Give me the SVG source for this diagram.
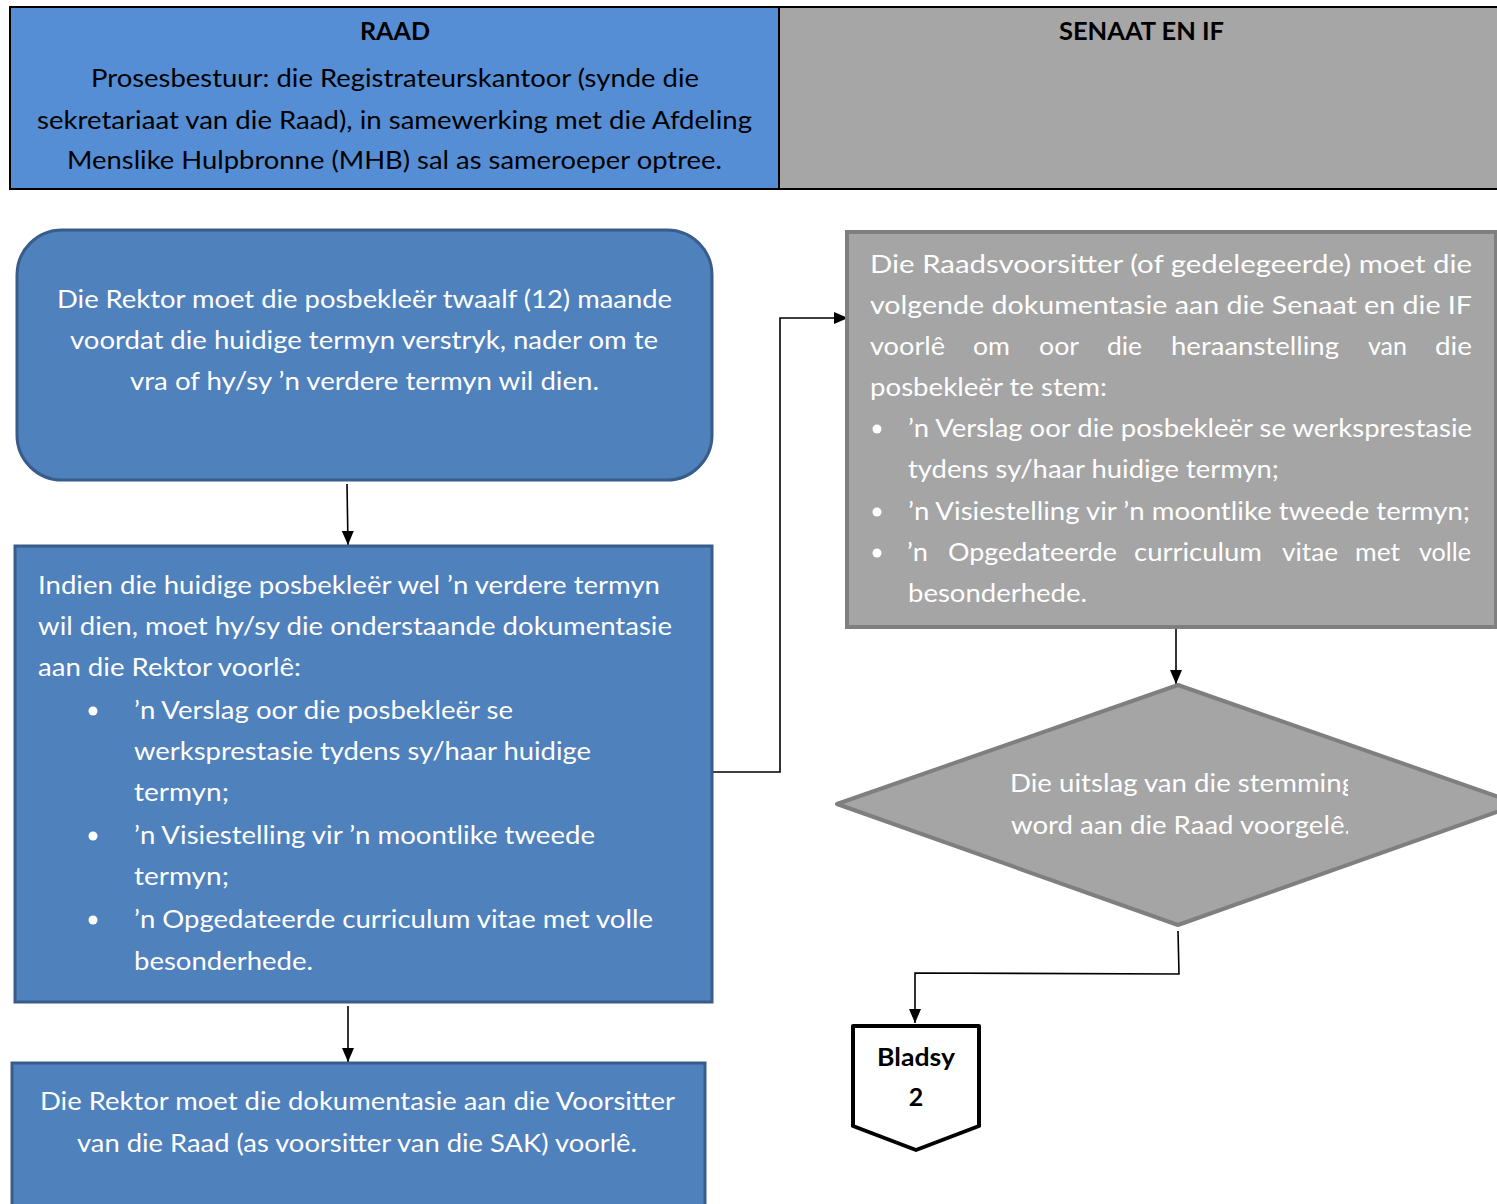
<svg xmlns="http://www.w3.org/2000/svg" width="1497" height="1204" viewBox="0 0 1497 1204">
<style>
text{font-family:Lato,"Open Sans","Liberation Sans",sans-serif;font-size:25px}
.w{fill:#ffffff}
.k{fill:#000000}
.b{font-weight:bold}
.blue{fill:#4F81BD;stroke:#385D8A;stroke-width:3}
.grey{fill:#A5A5A5;stroke:#7F7F7F;stroke-width:4}
.conn{fill:none;stroke:#000;stroke-width:1.6}
</style>
<defs>
<marker id="ah" markerUnits="userSpaceOnUse" markerWidth="14" markerHeight="14" viewBox="0 0 14 14" refX="14" refY="7" orient="auto">
<path d="M0,1 L14,7 L0,13 z" fill="#000"/>
</marker>
<clipPath id="dclip"><rect x="837" y="685" width="511" height="240"/></clipPath>
</defs>

<g id="header">
<rect x="10" y="7" width="769" height="182" fill="#558ED5" stroke="#000" stroke-width="2"/>
<rect x="779" y="7" width="720" height="182" fill="#A6A6A6" stroke="#000" stroke-width="2"/>
<text class="k b" x="395" y="40" text-anchor="middle" textLength="70" lengthAdjust="spacingAndGlyphs">RAAD</text>
<text class="k" x="395" y="87" text-anchor="middle" textLength="608" lengthAdjust="spacingAndGlyphs">Prosesbestuur: die Registrateurskantoor (synde die</text>
<text class="k" x="394.5" y="129" text-anchor="middle" textLength="715" lengthAdjust="spacingAndGlyphs">sekretariaat van die Raad), in samewerking met die Afdeling</text>
<text class="k" x="394.5" y="169" text-anchor="middle" textLength="655" lengthAdjust="spacingAndGlyphs">Menslike Hulpbronne (MHB) sal as sameroeper optree.</text>
<text class="k b" x="1141.5" y="40" text-anchor="middle" textLength="165" lengthAdjust="spacingAndGlyphs">SENAAT EN IF</text>
</g>

<g id="connectors">
<path class="conn" d="M347,484 L348,545" marker-end="url(#ah)"/>
<path class="conn" d="M348,1006 L348,1062" marker-end="url(#ah)"/>
<path class="conn" d="M713,772 H780 V318 H848" marker-end="url(#ah)"/>
<path class="conn" d="M1176,627 V684" marker-end="url(#ah)"/>
<path class="conn" d="M1178,931 L1179,974 L915,973 L915,1023" marker-end="url(#ah)"/>
</g>

<g id="node1">
<rect class="blue" x="17" y="230" width="695" height="250" rx="45" ry="45"/>
<text class="w" x="364.5" y="308" text-anchor="middle" textLength="615" lengthAdjust="spacingAndGlyphs">Die Rektor moet die posbekleër twaalf (12) maande</text>
<text class="w" x="364" y="349" text-anchor="middle" textLength="588" lengthAdjust="spacingAndGlyphs">voordat die huidige termyn verstryk, nader om te</text>
<text class="w" x="364.5" y="390" text-anchor="middle" textLength="469" lengthAdjust="spacingAndGlyphs">vra of hy/sy ’n verdere termyn wil dien.</text>
</g>

<g id="node2">
<rect class="blue" x="15" y="546" width="697" height="456"/>
<text class="w" x="38" y="594" textLength="622" lengthAdjust="spacingAndGlyphs">Indien die huidige posbekleër wel ’n verdere termyn</text>
<text class="w" x="38" y="635" textLength="634" lengthAdjust="spacingAndGlyphs">wil dien, moet hy/sy die onderstaande dokumentasie</text>
<text class="w" x="38" y="676" textLength="263" lengthAdjust="spacingAndGlyphs">aan die Rektor voorlê:</text>
<circle class="w" cx="93" cy="711" r="4.5"/>
<circle class="w" cx="93" cy="836" r="4.5"/>
<circle class="w" cx="93" cy="920" r="4.5"/>
<text class="w" x="134" y="719" textLength="379" lengthAdjust="spacingAndGlyphs">’n Verslag oor die posbekleër se</text>
<text class="w" x="134" y="760" textLength="457" lengthAdjust="spacingAndGlyphs">werksprestasie tydens sy/haar huidige</text>
<text class="w" x="134" y="801" textLength="95" lengthAdjust="spacingAndGlyphs">termyn;</text>
<text class="w" x="134" y="844" textLength="461" lengthAdjust="spacingAndGlyphs">’n Visiestelling vir ’n moontlike tweede</text>
<text class="w" x="134" y="885" textLength="95" lengthAdjust="spacingAndGlyphs">termyn;</text>
<text class="w" x="134" y="928" textLength="519" lengthAdjust="spacingAndGlyphs">’n Opgedateerde curriculum vitae met volle</text>
<text class="w" x="134" y="970" textLength="179" lengthAdjust="spacingAndGlyphs">besonderhede.</text>
</g>

<g id="node3">
<rect class="blue" x="12" y="1063" width="693" height="160"/>
<text class="w" x="357.5" y="1110" text-anchor="middle" textLength="635" lengthAdjust="spacingAndGlyphs">Die Rektor moet die dokumentasie aan die Voorsitter</text>
<text class="w" x="357" y="1152" text-anchor="middle" textLength="560" lengthAdjust="spacingAndGlyphs">van die Raad (as voorsitter van die SAK) voorlê.</text>
</g>

<g id="node4">
<rect class="grey" x="847" y="232" width="649" height="395"/>
<text class="w" x="870" y="273" textLength="602" lengthAdjust="spacingAndGlyphs">Die Raadsvoorsitter (of gedelegeerde) moet die</text>
<text class="w" x="870" y="314" textLength="602" lengthAdjust="spacingAndGlyphs">volgende dokumentasie aan die Senaat en die IF</text>
<text class="w" y="355"><tspan x="870" textLength="75" lengthAdjust="spacingAndGlyphs">voorlê</tspan><tspan x="973" textLength="37" lengthAdjust="spacingAndGlyphs">om</tspan><tspan x="1039" textLength="40" lengthAdjust="spacingAndGlyphs">oor</tspan><tspan x="1107" textLength="35" lengthAdjust="spacingAndGlyphs">die</tspan><tspan x="1171" textLength="168" lengthAdjust="spacingAndGlyphs">heraanstelling</tspan><tspan x="1368" textLength="39" lengthAdjust="spacingAndGlyphs">van</tspan><tspan x="1435" textLength="37" lengthAdjust="spacingAndGlyphs">die</tspan></text>
<text class="w" x="870" y="396" textLength="237" lengthAdjust="spacingAndGlyphs">posbekleër te stem:</text>
<circle class="w" cx="877" cy="429" r="4.5"/>
<circle class="w" cx="877" cy="512" r="4.5"/>
<circle class="w" cx="877" cy="553" r="4.5"/>
<text class="w" x="908" y="437" textLength="564" lengthAdjust="spacingAndGlyphs">’n Verslag oor die posbekleër se werksprestasie</text>
<text class="w" x="908" y="478" textLength="371" lengthAdjust="spacingAndGlyphs">tydens sy/haar huidige termyn;</text>
<text class="w" x="908" y="520" textLength="562" lengthAdjust="spacingAndGlyphs">’n Visiestelling vir ’n moontlike tweede termyn;</text>
<text class="w" y="561"><tspan x="907" textLength="21" lengthAdjust="spacingAndGlyphs">’n</tspan><tspan x="948" textLength="169" lengthAdjust="spacingAndGlyphs">Opgedateerde</tspan><tspan x="1134" textLength="128" lengthAdjust="spacingAndGlyphs">curriculum</tspan><tspan x="1282" textLength="56" lengthAdjust="spacingAndGlyphs">vitae</tspan><tspan x="1355" textLength="45" lengthAdjust="spacingAndGlyphs">met</tspan><tspan x="1419" textLength="52" lengthAdjust="spacingAndGlyphs">volle</tspan></text>
<text class="w" x="908" y="602" textLength="179" lengthAdjust="spacingAndGlyphs">besonderhede.</text>
</g>

<g id="node5">
<polygon class="grey" points="1178,685 1519,804 1178,925 837,804" stroke-linejoin="round"/>
<g clip-path="url(#dclip)">
<text class="w" x="1010" y="792" textLength="346" lengthAdjust="spacingAndGlyphs">Die uitslag van die stemming</text>
<text class="w" x="1011" y="834" textLength="340" lengthAdjust="spacingAndGlyphs">word aan die Raad voorgelê.</text>
</g>
</g>

<g id="node6">
<polygon points="853,1026 979,1026 979,1126 916,1150 853,1126" fill="#fff" stroke="#000" stroke-width="4" stroke-linejoin="round"/>
<text class="k b" x="916" y="1066" text-anchor="middle" textLength="78" lengthAdjust="spacingAndGlyphs">Bladsy</text>
<text class="k b" x="916" y="1106" text-anchor="middle">2</text>
</g>
</svg>
